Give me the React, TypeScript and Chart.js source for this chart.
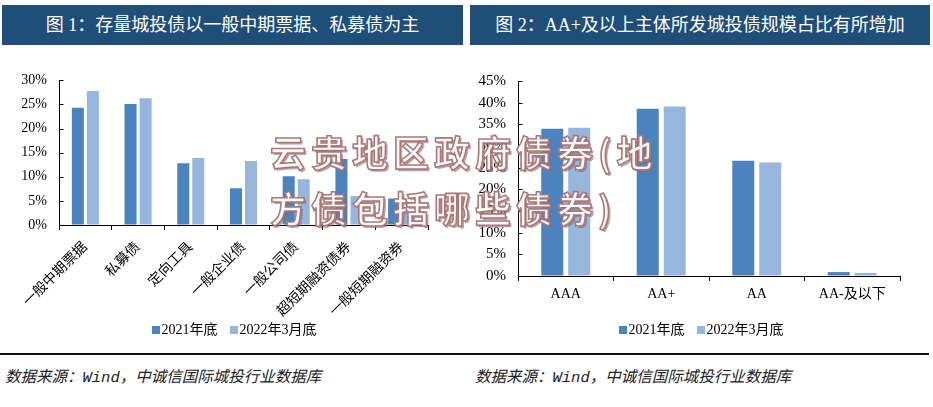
import React, { useEffect, useRef } from 'react';
import { Chart, registerables } from 'chart.js';

Chart.register(...registerables);

// ---------- data ----------
const SERIES_NAMES = ['2021年底', '2022年3月底'];

const CATS_1 = ['一般中期票据', '私募债', '定向工具', '一般企业债', '一般公司债', '超短期融资债券', '一般短期融资券'];
const DATA_1_2021 = [24.3, 25.1, 12.8, 7.6, 10.1, 13.7, 5.5];
const DATA_1_2022 = [27.8, 26.3, 13.9, 13.3, 9.5, 6.0, 2.5];

const CATS_2 = ['AAA', 'AA+', 'AA', 'AA-及以下'];
const DATA_2_2021 = [34.0, 38.6, 26.6, 0.9];
const DATA_2_2022 = [34.2, 39.1, 26.2, 0.7];

const Y_MAX_1 = 30;
const Y_MAX_2 = 45;
const Y_STEP = 5;

const TITLE_1 = '图 1：存量城投债以一般中期票据、私募债为主';
const TITLE_2 = '图 2：AA+及以上主体所发城投债规模占比有所增加';
const SOURCE = '数据来源：Wind，中诚信国际城投行业数据库';
const WATERMARK_1 = '云贵地区政府债券(地';
const WATERMARK_2 = '方债包括哪些债券)';

const COLORS = ['#4A83BE', '#96B6DE'];
const HEADER_BG = '#1F4E79';
const SERIF = "'Liberation Serif', 'Times New Roman', 'Noto Sans CJK SC', serif";

const inwardTicks = {
  id: 'inwardTicks',
  afterDraw(chart: any) {
    const ys = chart.scales.y;
    const x = Math.round(chart.chartArea.left) + 0.5;
    const ctx = chart.ctx;
    ctx.save();
    ctx.strokeStyle = '#000';
    ctx.lineWidth = 1;
    ys.ticks.forEach((_t: any, i: number) => {
      const py = Math.round(ys.getPixelForTick(i)) + 0.5;
      ctx.beginPath();
      ctx.moveTo(x, py);
      ctx.lineTo(x + 4, py);
      ctx.stroke();
    });
    ctx.restore();
  },
};

type BarProps = {
  labels: string[];
  series: number[][];
  yMax: number;
  left: number;
  top: number;
  width: number;
  height: number;
  yAxisWidth: number;
  xAxisHeight: number;
  padTop: number;
  padRight: number;
  catPct: number;
  barPct: number;
  rotate: number;
  xTickPadding: number;
  xFont: number;
  yFont: number;
};

function BarChart(p: BarProps) {
  const ref = useRef<HTMLCanvasElement | null>(null);
  useEffect(() => {
    if (!ref.current) return;
    const chart = new Chart(ref.current, {
      type: 'bar',
      data: {
        labels: p.labels,
        datasets: p.series.map((d, i) => ({
          label: SERIES_NAMES[i],
          data: d,
          backgroundColor: COLORS[i],
          borderWidth: 0,
          categoryPercentage: p.catPct,
          barPercentage: p.barPct,
        })),
      },
      options: {
        responsive: false,
        animation: false,
        devicePixelRatio: 1,
        layout: { padding: { top: p.padTop, right: p.padRight, left: 0, bottom: 0 } },
        plugins: { legend: { display: false }, tooltip: { enabled: false } },
        scales: {
          x: {
            offset: true,
            grid: {
              display: true,
              offset: true,
              drawOnChartArea: false,
              drawTicks: true,
              tickLength: 5,
              color: '#000',
            },
            border: { display: true, color: '#000', width: 1 },
            ticks: {
              color: '#000',
              font: { family: SERIF, size: p.xFont },
              minRotation: p.rotate,
              maxRotation: p.rotate,
              padding: p.xTickPadding,
              autoSkip: false,
            },
            afterFit: (s: any) => {
              s.height = p.xAxisHeight;
            },
          },
          y: {
            min: 0,
            max: p.yMax,
            grid: { display: true, drawOnChartArea: false, drawTicks: false },
            border: { display: true, color: '#000', width: 1 },
            ticks: {
              stepSize: Y_STEP,
              color: '#000',
              padding: 12,
              font: { family: SERIF, size: p.yFont },
              callback: (v: any) => `${v}%`,
            },
            afterFit: (s: any) => {
              s.width = p.yAxisWidth;
            },
          },
        },
      },
      plugins: [inwardTicks],
    });
    return () => chart.destroy();
  }, []);
  return (
    <canvas
      ref={ref}
      width={p.width}
      height={p.height}
      style={{ position: 'absolute', left: p.left, top: p.top, width: p.width, height: p.height }}
    />
  );
}

function Legend({ left, top, width }: { left: number; top: number; width: number }) {
  return (
    <div
      style={{
        position: 'absolute',
        left,
        top,
        width,
        display: 'flex',
        justifyContent: 'center',
        alignItems: 'center',
        gap: 12,
        fontFamily: SERIF,
        fontSize: 14,
        color: '#000',
        lineHeight: '18px',
      }}
    >
      {SERIES_NAMES.map((n, i) => (
        <div key={n} style={{ display: 'flex', alignItems: 'center' }}>
          <span style={{ display: 'inline-block', width: 8, height: 8, background: COLORS[i], marginRight: 2 }} />
          <span>{n}</span>
        </div>
      ))}
    </div>
  );
}

function Header({ left, width, text }: { left: number; width: number; text: string }) {
  return (
    <div
      style={{
        position: 'absolute',
        left,
        top: 5,
        width,
        height: 40,
        background: HEADER_BG,
        color: '#fff',
        fontFamily: SERIF,
        fontSize: 18,
        lineHeight: '40px',
        textAlign: 'center',
        whiteSpace: 'nowrap',
      }}
    >
      {text}
    </div>
  );
}

const wmStyle: React.CSSProperties = {
  position: 'absolute',
  left: 270,
  fontFamily: "'Noto Sans CJK SC', sans-serif",
  fontWeight: 700,
  fontSize: 36,
  letterSpacing: 5,
  lineHeight: '44px',
  color: '#fffafa',
  WebkitTextStroke: '1.6px #a8797a',
  textShadow: '2px 2px 0 rgba(150,100,100,0.6)',
  whiteSpace: 'nowrap',
  pointerEvents: 'none',
};

const srcStyle: React.CSSProperties = {
  position: 'absolute',
  top: 364,
  fontFamily: "'Liberation Mono', 'Noto Sans CJK SC', monospace",
  fontStyle: 'italic',
  fontSize: 15.5,
  color: '#222',
  whiteSpace: 'nowrap',
};

export default function App() {
  return (
    <div
      style={{
        position: 'absolute',
        left: 0,
        top: 0,
        width: 933,
        height: 407,
        background: '#fff',
        overflow: 'hidden',
      }}
    >
      <Header left={2} width={461} text={TITLE_1} />
      <Header left={470} width={460} text={TITLE_2} />

      <BarChart
        labels={CATS_1}
        series={[DATA_1_2021, DATA_1_2022]}
        yMax={Y_MAX_1}
        left={0}
        top={60}
        width={466}
        height={280}
        yAxisWidth={59}
        xAxisHeight={115}
        padTop={15}
        padRight={38}
        catPct={0.57}
        barPct={0.8}
        rotate={45}
        xTickPadding={9}
        xFont={14}
        yFont={14}
      />
      <BarChart
        labels={CATS_2}
        series={[DATA_2_2021, DATA_2_2022]}
        yMax={Y_MAX_2}
        left={466}
        top={60}
        width={467}
        height={280}
        yAxisWidth={52}
        xAxisHeight={64}
        padTop={15}
        padRight={33}
        catPct={0.565}
        barPct={0.815}
        rotate={0}
        xTickPadding={5}
        xFont={14}
        yFont={15}
      />

      <Legend left={134} top={321} width={200} />
      <Legend left={601} top={321} width={200} />

      <div style={{ position: 'absolute', left: 0, top: 353, width: 929, height: 2, background: '#111' }} />
      <div style={{ ...srcStyle, left: 5 }}>{SOURCE}</div>
      <div style={{ ...srcStyle, left: 475 }}>{SOURCE}</div>

      <div style={{ ...wmStyle, top: 129 }}>{WATERMARK_1}</div>
      <div style={{ ...wmStyle, top: 185 }}>{WATERMARK_2}</div>
    </div>
  );
}
